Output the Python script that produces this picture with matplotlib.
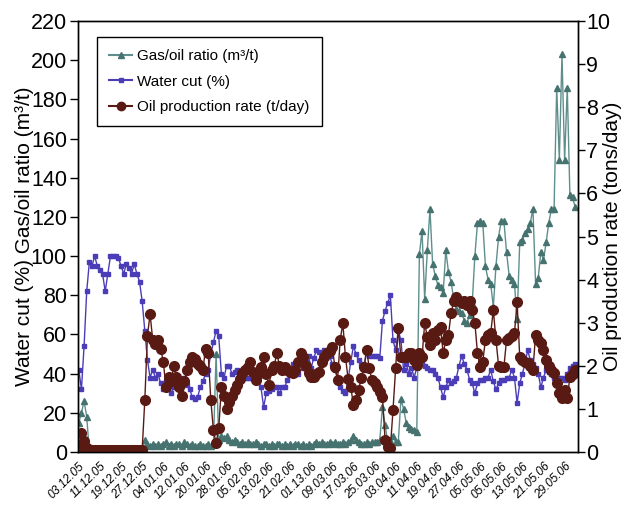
import numpy as np
import matplotlib
matplotlib.use("Agg")
import matplotlib.pyplot as plt
from matplotlib.lines import Line2D

plt.rcParams['font.family'] = ['Liberation Sans', 'DejaVu Sans']

# daily readings, day 0 = 03.12.05
water_cut = [
    42, 32, 54, 82, 97, 95, 100, 95, 93, 91,
    82, 91, 100, 100, 100, 99, 95, 91, 96, 94,
    91, 96, 91, 87, 77, 62, 47, 38, 42, 38,
    40, 35, 32, 36, 35, 30, 33, 35, 35, 37,
    38, 34, 32, 28, 27, 28, 33, 36, 40, 42,
    50, 56, 62, 59, 40, 38, 44, 44, 40, 41,
    42, 41, 40, 38, 38, 38, 39, 40, 37, 33,
    23, 30, 31, 32, 33, 33, 30, 33, 33, 37,
    40, 45, 42, 40, 45, 43, 46, 49, 43, 48,
    52, 51, 50, 52, 50, 49, 45, 42, 38, 33,
    31, 30, 37, 46, 54, 50, 47, 45, 42, 52,
    49, 49, 49, 49, 48, 67, 72, 76, 80, 57,
    52, 62, 57, 42, 45, 40, 43, 38, 43, 44,
    45, 44, 43, 42, 42, 40, 38, 33, 28, 33,
    37, 35, 36, 38, 44, 49, 45, 42, 37, 35,
    30, 35, 37, 37, 38, 38, 42, 36, 32, 35,
    37, 37, 38, 38, 42, 38, 25, 35, 40, 45,
    52, 47, 45, 43, 40, 33, 38, 42, 41, 40,
    38, 37, 38, 38, 37, 40, 43, 44, 45,
]

oil_rate = [
    0.12, 0.44, 0.25, 0.10, 0.05, 0.05, 0.05, 0.05, 0.05, 0.05,
    0.05, 0.05, 0.05, 0.05, 0.05, 0.05, 0.05, 0.05, 0.05, 0.05,
    0.05, 0.05, 0.05, 0.05, 0.05, 1.2, 2.7, 3.2, 2.6, 2.5,
    2.6, 2.4, 2.1, 1.5, 1.75, 1.65, 2.0, 1.75, 1.5, 1.3,
    1.65, 1.9, 2.1, 2.2, 2.15, 2.05, 2.0, 1.9, 2.4, 2.3,
    1.2, 0.5, 0.2, 0.55, 1.5, 1.3, 1.0, 1.15, 1.3, 1.45,
    1.55, 1.7, 1.83, 1.9, 1.97, 2.08, 1.85, 1.67, 1.8, 1.97,
    2.2, 1.8, 1.55, 1.9, 2.0, 2.29, 2.0, 1.9, 1.97, 1.9,
    1.85, 1.83, 1.9, 2.1, 2.29, 2.2, 2.0, 1.83, 1.75, 1.74,
    1.8, 1.86, 2.1, 2.2, 2.29, 2.35, 2.44, 1.97, 1.67, 2.6,
    2.99, 2.2, 1.7, 1.52, 1.09, 1.2, 1.45, 1.72, 1.97, 2.37,
    1.95, 1.67, 1.6, 1.52, 1.4, 1.28, 0.28, 0.12, 0.09, 0.97,
    1.95, 2.88, 2.2, 2.2, 2.2, 2.29, 2.3, 2.13, 2.02, 2.29,
    2.2, 2.99, 2.67, 2.48, 2.76, 2.6, 2.83, 2.9, 2.29, 2.6,
    2.72, 3.22, 3.5, 3.6, 3.5, 3.45, 3.5, 3.4, 3.5, 3.3,
    3.0, 2.29, 1.97, 2.1, 2.6, 2.72, 2.76, 3.29, 2.6, 2.0,
    1.97, 1.97, 2.6, 2.65, 2.7, 2.76, 3.48, 2.2, 2.13, 2.1,
    2.06, 2.0, 1.9, 2.72, 2.6, 2.53, 2.37, 2.13, 2.0, 1.9,
    1.83, 1.6, 1.37, 1.25, 1.44, 1.25, 1.74, 1.8, 1.9,
]

gas_oil = [
    15, 20, 26, 18, 0, 0, 0, 0, 0, 0,
    0, 0, 0, 0, 0, 0, 0, 0, 0, 0,
    0, 0, 0, 0, 0, 6, 4, 3, 4, 3,
    4, 3, 4, 5, 3, 4, 3, 4, 4, 3,
    5, 4, 3, 4, 3, 3, 4, 3, 3, 4,
    3, 4, 50, 6, 8, 7, 8, 6, 5, 6,
    5, 4, 5, 4, 5, 4, 4, 5, 4, 3,
    4, 4, 3, 4, 3, 4, 4, 3, 4, 3,
    4, 3, 4, 4, 3, 4, 3, 4, 3, 4,
    5, 4, 5, 4, 4, 5, 4, 5, 4, 4,
    5, 4, 5, 6, 8, 6, 5, 4, 4, 5,
    4, 5, 5, 5, 6, 23, 14, 5, 6, 8,
    5, 5, 27, 22, 15, 13, 12, 11, 10, 101,
    113, 78, 103, 124, 96, 90, 85, 84, 81, 103,
    92, 87, 78, 73, 72, 71, 67, 66, 70, 76,
    100, 117, 118, 117, 95, 88, 86, 74, 95, 110,
    118, 118, 102, 90, 88, 86, 68, 107, 108, 112,
    114, 117, 124, 86, 89, 102, 98, 107, 117, 124,
    124, 186, 149, 203, 149, 186, 131, 130, 125,
]

date_labels = [
    "03.12.05", "11.12.05", "19.12.05", "27.12.05", "04.01.06", "12.01.06",
    "20.01.06", "28.01.06", "05.02.06", "13.02.06", "21.02.06", "01.13.06",
    "09.03.06", "17.03.06", "25.03.06", "03.04.06", "11.04.06", "19.04.06",
    "27.04.06", "05.05.06", "05.05.06", "13.05.06", "21.05.06", "29.05.06",
]

gor_line = "#5e8f8c"
gor_mark = "#46736f"
wc_color = "#4b3db8"
oil_color = "#5a1a14"

days = np.arange(len(water_cut))

fig = plt.figure(figsize=(6.24, 5.14), dpi=100)
ax = fig.add_axes([0.125, 0.1206, 0.801, 0.8385])
ax2 = ax.twinx()

ax.plot(days, water_cut, color=wc_color, lw=1.0, marker="s", ms=2.6,
        mec=wc_color, mfc=wc_color)
ax.plot(days, gas_oil, color=gor_line, lw=1.0, marker="^", ms=4.5,
        mec=gor_mark, mfc=gor_mark)
ax2.plot(days, oil_rate, color=oil_color, lw=1.0, marker="o", ms=7,
         mec=oil_color, mfc=oil_color)

ax.set_xlim(-0.3, 189)
ax.set_ylim(0, 220)
ax2.set_ylim(0, 10)
ax.set_yticks(np.arange(0, 221, 20))
ax2.set_yticks(np.arange(0, 11, 1))

ax.set_xticks(np.arange(0, 8 * len(date_labels), 8))
ax.set_xticklabels(date_labels, rotation=45, ha="right", rotation_mode="anchor",
                   fontsize=8.5, style="italic")
ax.tick_params(axis="x", length=0, pad=6)
ax.tick_params(axis="y", labelsize=15.5, length=6, width=1, pad=2)
ax2.tick_params(axis="y", labelsize=15.5, length=5, width=1, pad=1)

ax.set_ylabel("Water cut (%) Gas/oil ratio (m\u00b3/t)", fontsize=15,
              ha="center", va="center")
ax.yaxis.set_label_coords(-0.108, 0.5)
ax2.set_ylabel("Oil production rate (tons/day)", fontsize=15,
               rotation=90, ha="center", va="center")
ax2.yaxis.set_label_coords(1.07, 0.5)

for a in (ax, ax2):
    for s in a.spines.values():
        s.set_linewidth(1.0)

handles = [
    Line2D([], [], color=gor_line, marker="^", ms=5, mec=gor_mark, mfc=gor_mark),
    Line2D([], [], color=wc_color, marker="s", ms=3, mec=wc_color, mfc=wc_color),
    Line2D([], [], color=oil_color, marker="o", ms=6, mec=oil_color, mfc=oil_color),
]
leg = ax2.legend(handles, ["Gas/oil ratio (m\u00b3/t)", "Water cut (%)",
                           "Oil production rate (t/day)"],
                 loc="upper left", bbox_to_anchor=(0.038, 0.963), borderaxespad=0,
                 fontsize=11, fancybox=False, framealpha=1, edgecolor="black",
                 handlelength=1.5, handletextpad=0.35, labelspacing=0.75,
                 borderpad=0.8)
leg.get_frame().set_linewidth(1.0)

fig.savefig("out.png", dpi=100)
